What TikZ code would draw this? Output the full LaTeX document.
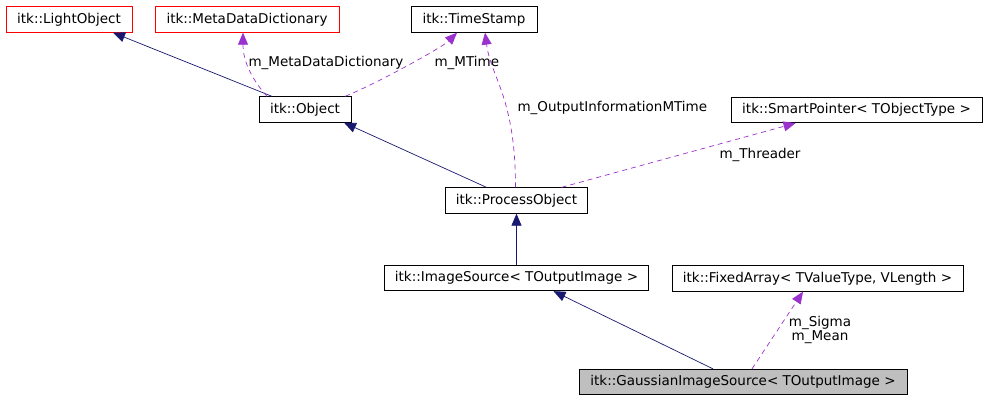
\documentclass[tikz,border=0pt]{standalone}
\usepackage{fontspec}
\setmainfont{DejaVu Sans}
\usetikzlibrary{arrows.meta}
\definecolor{inhblue}{RGB}{25,25,112}
\definecolor{usepurple}{RGB}{154,50,205}
\begin{document}
\begin{tikzpicture}[x=1pt, y=-1pt,
    font=\fontsize{13.5}{14}\selectfont,
    >={Triangle[length=12pt,width=10pt]},
    cls/.style={draw, line width=0.8pt, minimum height=25.5pt, inner sep=0pt},
    inh/.style={->, draw=inhblue, line width=0.7pt},
    uses/.style={->, draw=usepurple, line width=0.7pt, dash pattern=on 5pt off 4pt}]
    \useasboundingbox (0,0) rectangle (987,400);

    % 类框
    \node[cls, draw=red, minimum width=126pt] (light) at (69,19.5) {itk::LightObject};
    \node[cls, draw=red, minimum width=184pt] (meta) at (247,19.5) {itk::MetaDataDictionary};
    \node[cls, minimum width=126pt] (stamp) at (474,19.5) {itk::TimeStamp};
    \node[cls, minimum width=92pt] (obj) at (305,109.5) {itk::Object};
    \node[cls, minimum width=251pt] (smart) at (856.5,110) {itk::SmartPointer< TObjectType >};
    \node[cls, minimum width=142pt] (proc) at (516.5,200.5) {itk::ProcessObject};
    \node[cls, minimum width=264pt] (imgsrc) at (516.5,278) {itk::ImageSource< TOutputImage >};
    \node[cls, minimum width=291pt] (fixed) at (817.5,278.5) {itk::FixedArray< TValueType, VLength >};
    \node[cls, fill=black!25, minimum width=328pt] (gauss) at (743,382) {itk::GaussianImageSource< TOutputImage >};

    % 继承
    \draw[inh] ([xshift=-33pt]obj.north) -- ([xshift=44pt]light.south);
    \draw[inh] ([xshift=-30pt]proc.north) -- ([xshift=39pt]obj.south);
    \draw[inh] (imgsrc.north) -- (proc.south);
    \draw[inh] ([xshift=-30pt]gauss.north) -- ([xshift=37pt]imgsrc.south);

    % 成员
    \draw[uses] ([xshift=-38pt]obj.north) .. controls +(-14,-16) and +(0,30) .. ([xshift=-4pt]meta.south);
    \node[anchor=west] (lmeta) at (245,63) {m\_MetaDataDictionary};
    \draw[uses] ([xshift=40pt]obj.north) .. controls +(30,-12) and +(-15,15) .. ([xshift=-17pt]stamp.south);
    \node[anchor=west] (lmtime) at (431,63) {m\_MTime};
    \draw[uses] ([xshift=-1pt]proc.north) .. controls +(0,-90) and +(6,45) .. ([xshift=11pt]stamp.south);
    \node[anchor=west] (lout) at (514,108) {m\_OutputInformationMTime};
    \draw[uses] ([xshift=45pt]proc.north) -- ([xshift=-61pt]smart.south);
    \node[anchor=west] (lthr) at (716,155) {m\_Threader};
    \draw[uses] ([xshift=9pt]gauss.north) -- ([xshift=-14.5pt]fixed.south);
    \node[align=center] (lsig) at (820,330) {m\_Sigma\\m\_Mean};
\end{tikzpicture}
\end{document}
